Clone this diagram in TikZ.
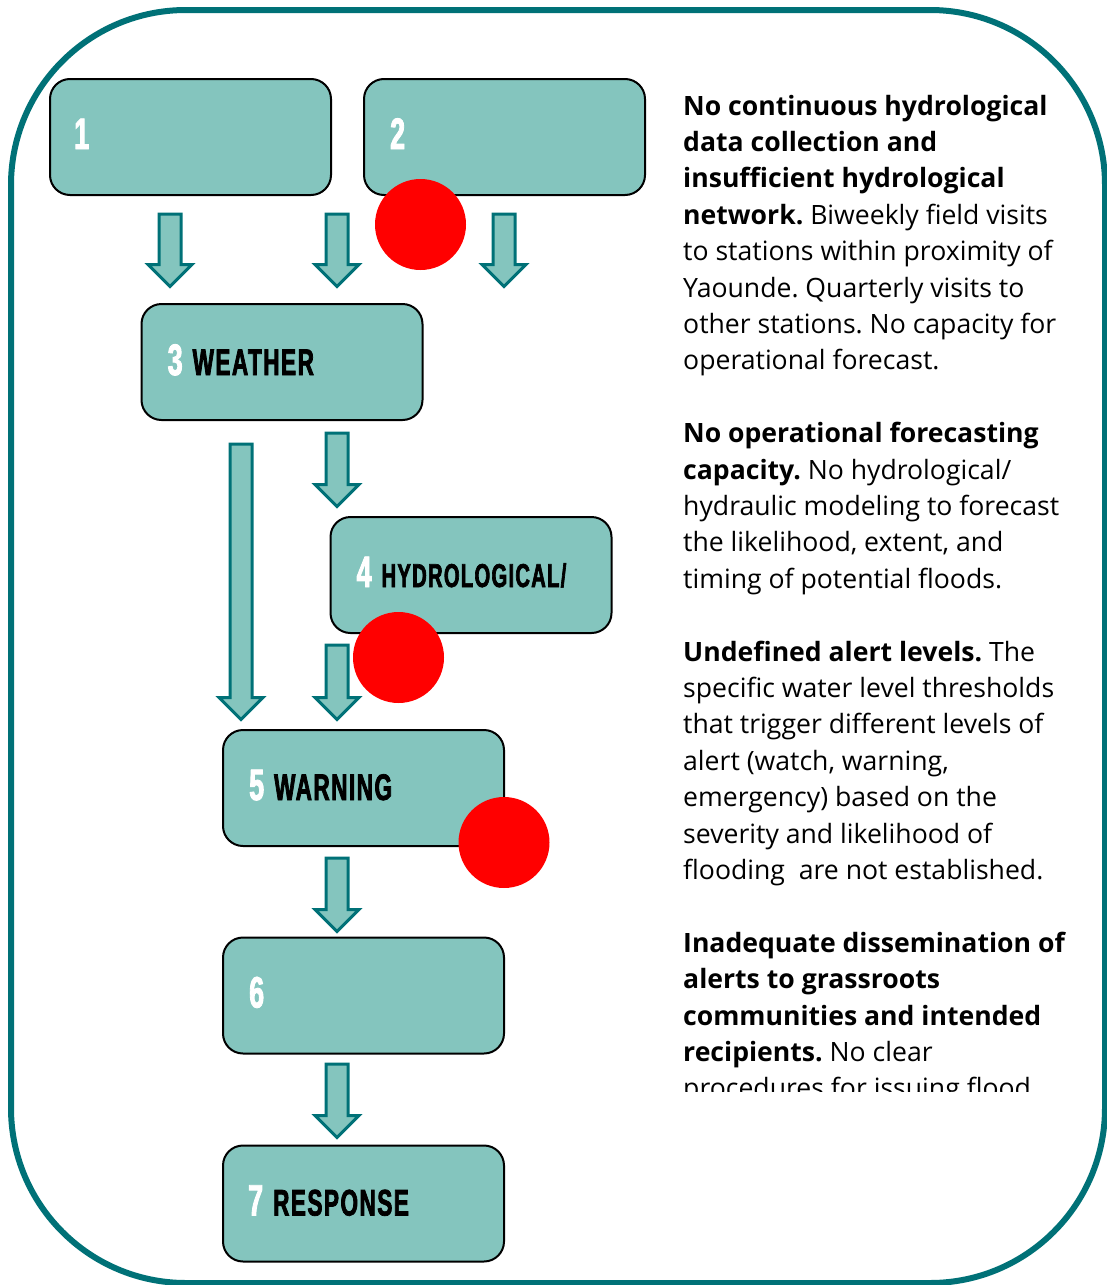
\documentclass[tikz,border=0pt]{standalone}
\usepackage{fontspec}
\setmainfont{Open Sans}
\newfontfamily\labelfont[FakeStretch=0.61,FakeBold=2,LetterSpace=4]{Liberation Sans}
\usetikzlibrary{shapes.arrows}

\definecolor{tealline}{RGB}{0,113,119}
\definecolor{boxfill}{RGB}{132,197,190}
\definecolor{alertred}{RGB}{255,0,0}

% stage number (white) and stage name (black)
\newcommand\stagenum[1]{{\color{white}\fontsize{44}{44}\selectfont #1}}
\newcommand\stageword[2][37]{{\color{black}\fontsize{#1}{#1}\selectfont #2}}

\begin{document}
\begin{tikzpicture}[x=1pt,y=-1pt,
  stagebox/.style={draw=black, line width=2pt, fill=boxfill, rounded corners=20pt,
    minimum width=281pt, minimum height=116pt, inner sep=0pt},
  stagelabel/.style={anchor=base west, inner sep=0pt, font=\labelfont\bfseries},
  flowarrow/.style={shape=single arrow, rotate=-90, anchor=tail, draw=tealline,
    fill=boxfill, line width=3pt, inner xsep=0pt, inner ysep=9.5pt,
    single arrow head extend=11pt, single arrow tip angle=90, minimum height=#1},
  alertdot/.style={circle, fill=alertred, minimum size=91pt, inner sep=0pt},
]
\useasboundingbox (0,0) rectangle (1107,1285);

% outer frame
\draw[tealline, line width=6pt, rounded corners=175pt] (11,10) rectangle (1105,1283);

% stages
\node[stagebox] (b1) at (190.5,137) {};
\node[stagebox] (b2) at (504.5,137) {};
\node[stagebox] (b3) at (282,362) {};
\node[stagebox] (b4) at (471,575) {};
\node[stagebox] (b5) at (363.5,788) {};
\node[stagebox] (b6) at (363.5,995.5) {};
\node[stagebox] (b7) at (363.5,1203.5) {};

\node[stagelabel] (l1) at ([xshift=25pt,yshift=-12pt]b1.west) {\stagenum{1}};
\node[stagelabel] (l2) at ([xshift=27pt,yshift=-12pt]b2.west) {\stagenum{2}};
\node[stagelabel] (l3) at ([xshift=27pt,yshift=-13pt]b3.west) {\stagenum{3}\hspace{10pt}\stageword{WEATHER}};
\node[stagelabel] (l4) at ([xshift=27pt,yshift=-12pt]b4.west) {\stagenum{4}\hspace{10pt}\stageword[33]{HYDROLOGICAL/}};
\node[stagelabel] (l5) at ([xshift=27pt,yshift=-12pt]b5.west) {\stagenum{5}\hspace{10pt}\stageword{WARNING}};
\node[stagelabel] (l6) at ([xshift=27pt,yshift=-12pt]b6.west) {\stagenum{6}};
\node[stagelabel] (l7) at ([xshift=26pt,yshift=-12pt]b7.west) {\stagenum{7}\hspace{10pt}\stageword{RESPONSE}};

% flow arrows
\node[flowarrow=72.5] (a1) at (170,212.5) {};
\node[flowarrow=72.5] (a2) at (337,212.5) {};
\node[flowarrow=72.5] (a3) at (504,212.5) {};
\node[flowarrow=73.5] (a4) at (337,431.5) {};
\node[flowarrow=275.5] (a5) at (241,442.5) {};
\node[flowarrow=74.5] (a6) at (337,643.5) {};
\node[flowarrow=73.5] (a7) at (337,856.5) {};
\node[flowarrow=73.5] (a8) at (337,1062.5) {};

% gap markers
\node[alertdot] (r1) at (420.5,224.5) {};
\node[alertdot] (r2) at (398.5,657.5) {};
\node[alertdot] (r3) at (504,842.5) {};

% notes column
\begin{scope}
\clip (600,0) rectangle (1107,1091);
\node[anchor=base west, inner sep=0pt] (notes) at (683,115) {\parbox[t]{420pt}{\raggedright\frenchspacing\fontsize{26.6}{36.4}\selectfont
\textbf{No continuous hydrological}\\
\textbf{data collection and}\\
\textbf{insufficient hydrological}\\
\textbf{network.} Biweekly field visits\\
to stations within proximity of\\
Yaounde. Quarterly visits to\\
other stations. No capacity for\\
operational forecast.\\[36.4pt]
\textbf{No operational forecasting}\\
\textbf{capacity.} No hydrological/\\
hydraulic modeling to forecast\\
the likelihood, extent, and\\
timing of potential floods.\\[36.4pt]
\textbf{Undefined alert levels.} The\\
specific water level thresholds\\
that trigger different levels of\\
alert (watch, warning,\\
emergency) based on the\\
severity and likelihood of\\
flooding\ \ are not established.\\[36.4pt]
\textbf{Inadequate dissemination of}\\
\textbf{alerts to grassroots}\\
\textbf{communities and intended}\\
\textbf{recipients.} No clear\\
procedures for issuing flood}};
\end{scope}
\end{tikzpicture}
\end{document}
